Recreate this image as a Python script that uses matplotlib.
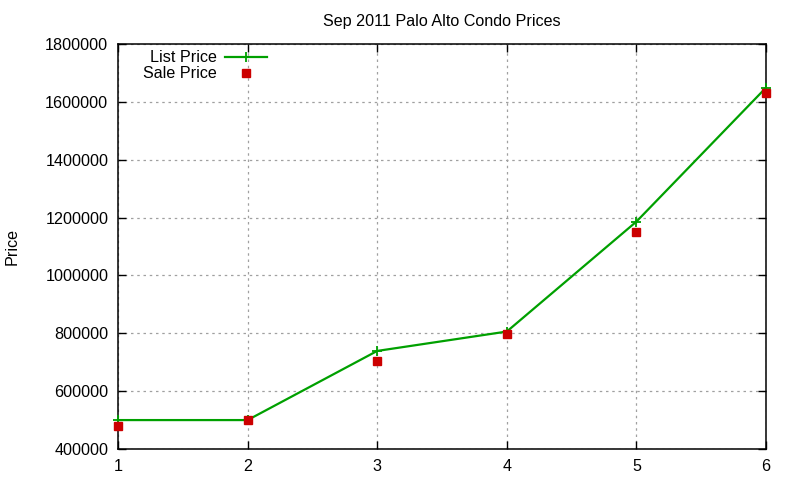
import matplotlib
matplotlib.use("Agg")
import matplotlib.pyplot as plt

# data
listings = [1, 2, 3, 4, 5, 6]
list_price = [500000, 500000, 739000, 806000, 1186000, 1649000]
sale_price = [481000, 500000, 705000, 799000, 1150000, 1630000]
y_ticks = [400000, 600000, 800000, 1000000, 1200000, 1400000, 1600000, 1800000]

plt.rcParams['font.family'] = ['Liberation Sans', 'DejaVu Sans']
fs = 11.6

fig = plt.figure(figsize=(8, 4.8), dpi=100)
ax = fig.add_axes([118 / 800, 1 - 449 / 480, 648 / 800, 405 / 480])

ax.plot(listings, list_price, color='#00a000', linewidth=1.6, marker='+',
        markersize=7, markeredgewidth=1.3, label='List Price', clip_on=False,
        zorder=3)
ax.plot(listings, sale_price, linestyle='none', marker='s', markersize=6.3,
        color='#cc0000', label='Sale Price', clip_on=False, zorder=4)

ax.set_xlim(1, 6)
ax.set_ylim(400000, 1800000)
ax.set_xticks(listings)
ax.set_yticks(y_ticks)
ax.set_yticklabels([str(v) for v in y_ticks])

ax.tick_params(direction='in', length=6, width=1, labelsize=fs,
               top=True, right=True, pad=7)
ax.grid(True, color='#a0a0a0', linestyle=(0, (2, 3)), linewidth=0.9)
for s in ax.spines.values():
    s.set_linewidth(1.1)

ax.set_title('Sep 2011 Palo Alto Condo Prices', fontsize=fs, pad=13)
ax.set_ylabel('Price', fontsize=fs)
ax.yaxis.set_label_coords(-0.152, 0.5)

ax.legend(loc='upper left', markerfirst=False, frameon=False, fontsize=fs,
          handlelength=2.6, handletextpad=0.5, labelspacing=0.05,
          borderaxespad=0.0, bbox_to_anchor=(0.029, 1.0))

fig.savefig('out.png', dpi=100)
